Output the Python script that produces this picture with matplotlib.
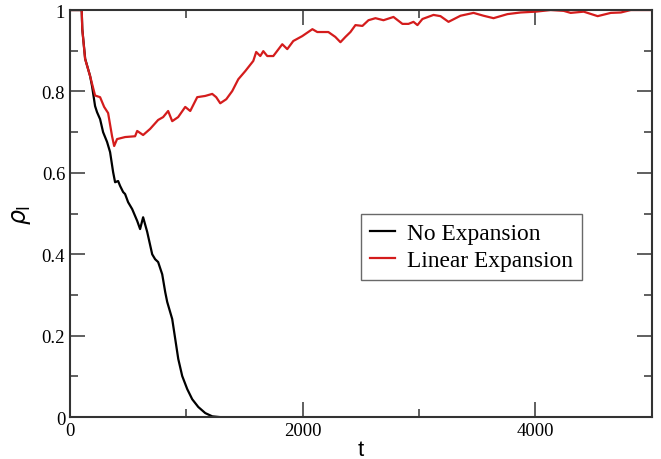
import numpy as np
import matplotlib
matplotlib.use('Agg')
import matplotlib.pyplot as plt
from matplotlib.ticker import MultipleLocator

# values
# No Expansion (black)
t_none = [0, 100, 105, 130, 172, 189, 215, 232, 258, 284, 318, 344, 370, 387, 413,
          430, 456, 473, 499, 534, 577, 602, 628, 663, 706, 731, 757, 792, 818, 835,
          878, 904, 930, 964, 1007, 1050, 1102, 1162, 1222, 1291, 2000, 3000, 4000, 5000]
rho_none = [1.0, 1.0, 0.953, 0.88, 0.838, 0.813, 0.764, 0.749, 0.732, 0.700, 0.676, 0.651,
            0.602, 0.577, 0.580, 0.568, 0.553, 0.548, 0.528, 0.511, 0.482, 0.462, 0.491,
            0.455, 0.400, 0.388, 0.381, 0.351, 0.307, 0.283, 0.241, 0.192, 0.143, 0.101,
            0.069, 0.044, 0.025, 0.010, 0.002, 0.0, 0.0, 0.0, 0.0, 0.0]

# Linear Expansion (red)
t_lin = [0, 100, 105, 129, 172, 215, 258, 293, 327, 361, 379, 404, 473, 559, 577, 628,
         688, 757, 800, 843, 878, 929, 990, 1033, 1093, 1162, 1222, 1256, 1291, 1343,
         1394, 1446, 1506, 1575, 1600, 1635, 1661, 1695, 1747, 1824, 1867, 1919, 1996,
         2083, 2125, 2220, 2280, 2324, 2367, 2410, 2453, 2513, 2565, 2625, 2694, 2780,
         2857, 2909, 2952, 2986, 3029, 3124, 3184, 3253, 3356, 3468, 3554, 3640, 3760,
         3873, 4002, 4131, 4243, 4303, 4415, 4535, 4648, 4734, 4820, 5000]
rho_lin = [1.0, 1.0, 0.953, 0.88, 0.838, 0.79, 0.786, 0.762, 0.747, 0.69, 0.666, 0.683,
           0.688, 0.69, 0.703, 0.693, 0.708, 0.73, 0.737, 0.752, 0.727, 0.737, 0.762,
           0.752, 0.786, 0.789, 0.794, 0.786, 0.771, 0.781, 0.801, 0.830, 0.850, 0.875,
           0.897, 0.887, 0.899, 0.887, 0.887, 0.916, 0.904, 0.924, 0.936, 0.953, 0.946,
           0.946, 0.934, 0.921, 0.934, 0.946, 0.963, 0.961, 0.975, 0.980, 0.975, 0.983,
           0.966, 0.966, 0.971, 0.963, 0.978, 0.988, 0.985, 0.971, 0.986, 0.993, 0.986,
           0.980, 0.990, 0.994, 0.996, 1.0, 0.998, 0.993, 0.996, 0.985, 0.993, 0.994,
           1.0, 1.0]

plt.rcParams['font.family'] = 'Liberation Serif'
plt.rcParams['mathtext.fontset'] = 'dejavusans'

fig = plt.figure(figsize=(6.61, 4.60), dpi=100)
ax = fig.add_axes([0.106, 0.091, 0.880, 0.885])

ax.plot(t_none, rho_none, color='black', lw=1.6, label='No Expansion')
ax.plot(t_lin, rho_lin, color='#d41c1c', lw=1.6, label='Linear Expansion')

ax.set_xlim(0, 5000)
ax.set_ylim(0, 1)
ax.xaxis.set_major_locator(MultipleLocator(2000))
ax.xaxis.set_minor_locator(MultipleLocator(1000))
ax.yaxis.set_major_locator(MultipleLocator(0.2))
ax.yaxis.set_minor_locator(MultipleLocator(0.1))
ax.set_yticks([0, 0.2, 0.4, 0.6, 0.8, 1.0])
ax.set_yticklabels(['0', '0.2', '0.4', '0.6', '0.8', '1'])
ax.tick_params(which='both', direction='in', top=True, right=True, labelsize=13.5,
               width=1.2, color='#444444')
ax.tick_params(which='major', length=11)
ax.tick_params(which='minor', length=6)
for s in ax.spines.values():
    s.set_linewidth(1.5)
    s.set_color('#333333')

ax.set_xlabel('t', family='Liberation Sans', fontsize=16, labelpad=0)
ax.set_ylabel(r'$\rho_{\mathrm{I}}$', fontsize=17, labelpad=6)

leg = ax.legend(loc='upper left', bbox_to_anchor=(0.500, 0.500), fontsize=16.8,
                frameon=True, fancybox=False, handlelength=1.1, handletextpad=0.5,
                borderpad=0.38, labelspacing=0.25, borderaxespad=0)
leg.get_frame().set_edgecolor('#444444')
leg.get_frame().set_linewidth(1.0)

fig.savefig('out.png', dpi=100)
